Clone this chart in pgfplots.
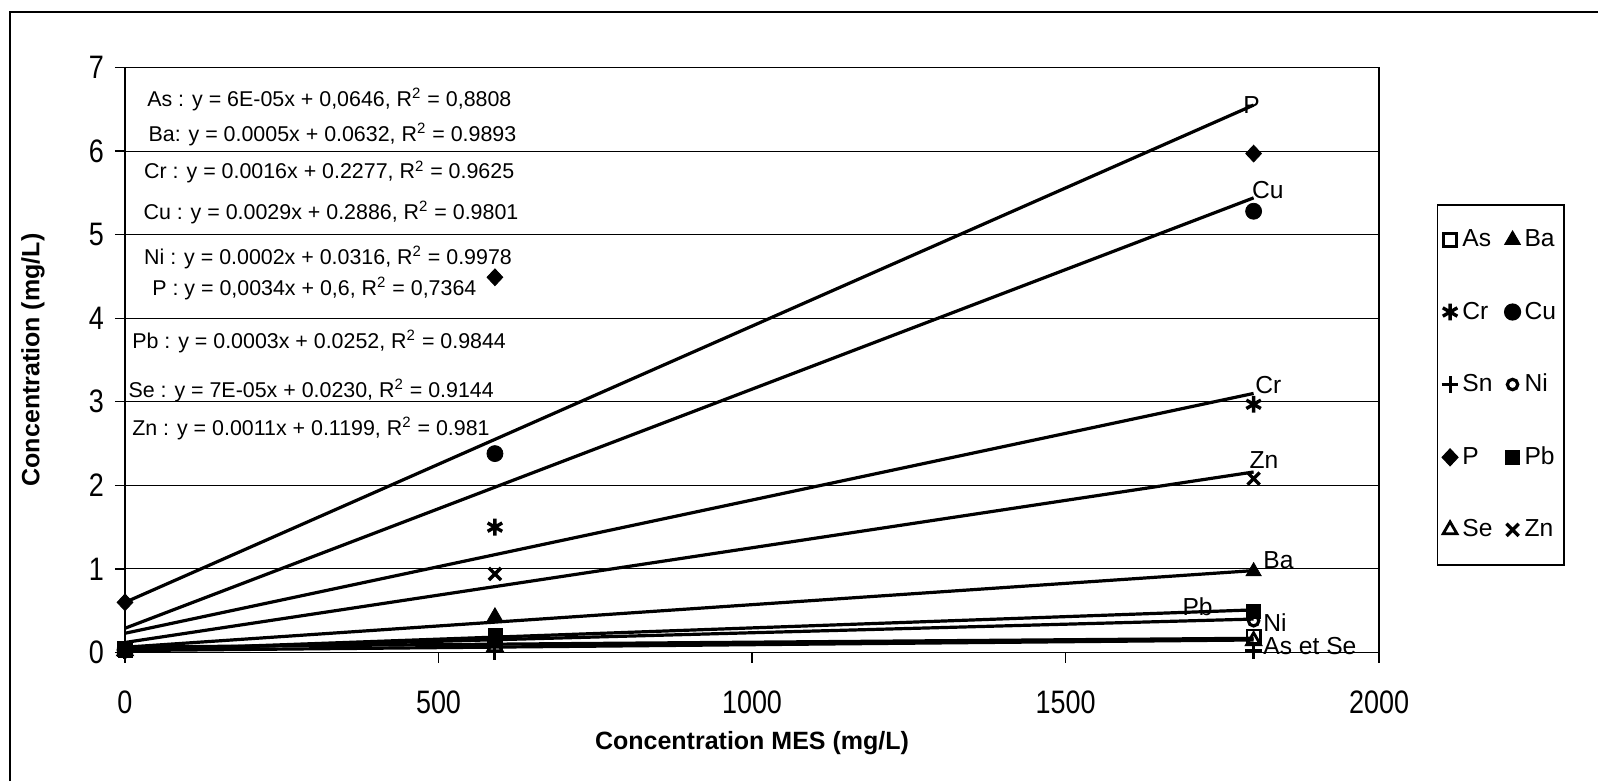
\documentclass[border=0pt]{standalone}
\usepackage{pgfplots}
\pgfplotsset{compat=1.18}
\usepackage{fontspec}
\setmainfont{Liberation Sans}
\begin{document}
\begin{tikzpicture}
\path[use as bounding box] (0pt,0pt) rectangle (799pt,390.5pt);
\draw[line width=0.8pt] (5pt,0pt) -- (5pt,384.5pt) -- (799pt,384.5pt);
\begin{axis}[
  at={(62.5pt,64.25pt)}, anchor=south west,
  scale only axis, width=627pt, height=292.5pt,
  xmin=0, xmax=2000, ymin=0, ymax=7,
  clip=false,
  xtick={0,500,1000,1500,2000}, ytick={0,1,2,3,4,5,6,7},
  xtick pos=bottom, ytick pos=left,
  tick align=outside, major tick length=5pt,
  tick style={black, line width=0.6pt},
  ymajorgrids, grid style={black, line width=0.5pt},
  axis line style={line width=0.6pt},
  /pgf/number format/assume math mode=true,
  /pgf/number format/1000 sep={},
  ticklabel style={font=\fontsize{14.5}{17}\selectfont, xscale=0.93, yscale=1.12},
  xticklabel style={yshift=-9.2pt},
  yticklabel style={xshift=-2.5pt},
  xlabel={Concentration MES (mg/L)},
  ylabel={Concentration (mg/L)},
  label style={font=\bfseries\fontsize{12.5}{15}\selectfont},
  xlabel style={at={(axis description cs:0.5,-0.155)}, anchor=center},
  ylabel style={at={(axis description cs:-0.0734,0.5)}, anchor=center},
  legend columns=2,
  legend cell align=left,
  legend style={at={(axis description cs:1.0463,0.766)}, anchor=north west,
    draw=black, line width=0.6pt, font=\fontsize{12.3}{14}\selectfont,
    inner xsep=2pt, inner ysep=10.5pt, row sep=22pt,
    /tikz/every even column/.append style={column sep=4pt}},
  legend image code/.code={\draw[#1] plot coordinates {(4pt,0pt)};},
]
% trend lines
\addplot[black, line width=1.6pt, forget plot] coordinates {(0,0.60) (1800,6.55)};
\addplot[black, line width=1.6pt, forget plot] coordinates {(0,0.29) (1800,5.44)};
\addplot[black, line width=1.6pt, forget plot] coordinates {(0,0.23) (1800,3.10)};
\addplot[black, line width=1.6pt, forget plot] coordinates {(0,0.12) (1800,2.16)};
\addplot[black, line width=1.6pt, forget plot] coordinates {(0,0.063) (1800,0.98)};
\addplot[black, line width=1.6pt, forget plot] coordinates {(0,0.025) (1800,0.51)};
\addplot[black, line width=1.6pt, forget plot] coordinates {(0,0.032) (1800,0.40)};
\addplot[black, line width=1.6pt, forget plot] coordinates {(0,0.065) (1800,0.17)};
\addplot[black, line width=1.6pt, forget plot] coordinates {(0,0.023) (1800,0.15)};
% data
\addplot[black, only marks, mark=square, mark size=3.3pt, mark options={line width=1.4pt}] coordinates {(0,0.04) (590,0.09) (1800,0.19)};
\addlegendentry{As}
\addplot[black, only marks, mark=triangle*, mark size=4.4pt] coordinates {(0,0.04) (590,0.43) (1800,0.97)};
\addlegendentry{Ba}
\addplot[black, only marks, mark=asterisk, mark size=4.2pt, mark options={line width=1.7pt}] coordinates {(0,0.03) (590,1.50) (1800,2.97)};
\addlegendentry{Cr}
\addplot[black, only marks, mark=*, mark size=4pt] coordinates {(0,0.03) (590,2.38) (1800,5.28)};
\addlegendentry{Cu}
\addplot[black, only marks, mark=+, mark size=4.2pt, mark options={line width=1.5pt}] coordinates {(0,0.02) (590,0.01) (1800,0.02)};
\addlegendentry{Sn}
\addplot[black, only marks, mark=o, mark size=2.6pt, mark options={line width=1.6pt}] coordinates {(0,0.03) (590,0.15) (1800,0.38)};
\addlegendentry{Ni}
\addplot[black, only marks, mark=diamond*, mark size=4.2pt, mark options={xscale=1.25}] coordinates {(0,0.60) (590,4.49) (1800,5.97)};
\addlegendentry{P}
\addplot[black, only marks, mark=square*, mark size=3.5pt] coordinates {(0,0.03) (590,0.21) (1800,0.49)};
\addlegendentry{Pb}
\addplot[black, only marks, mark=triangle, mark size=4pt, mark options={line width=1.4pt}] coordinates {(0,0.02) (590,0.07) (1800,0.14)};
\addlegendentry{Se}
\addplot[black, only marks, mark=x, mark size=4.3pt, mark options={line width=1.7pt}] coordinates {(0,0.03) (590,0.94) (1800,2.08)};
\addlegendentry{Zn}
% thick left axis line
\draw[line width=1.4pt] (rel axis cs:0,0) -- (rel axis cs:0,1);
% equations
\begin{scope}[every node/.style={anchor=west, inner sep=0pt, font=\fontsize{10.7}{12}\selectfont}]
\node at (axis cs:35,6.62) {As : y = 6E-05x + 0,0646, R\textsuperscript{2} = 0,8808};
\node at (axis cs:37,6.20) {Ba: y = 0.0005x + 0.0632, R\textsuperscript{2} = 0.9893};
\node at (axis cs:30,5.75) {Cr : y = 0.0016x + 0.2277, R\textsuperscript{2} = 0.9625};
\node at (axis cs:29,5.27) {Cu : y = 0.0029x + 0.2886, R\textsuperscript{2} = 0.9801};
\node at (axis cs:30,4.73) {Ni : y = 0.0002x + 0.0316, R\textsuperscript{2} = 0.9978};
\node at (axis cs:43,4.36) {P : y = 0,0034x + 0,6, R\textsuperscript{2} = 0,7364};
\node at (axis cs:11,3.72) {Pb : y = 0.0003x + 0.0252, R\textsuperscript{2} = 0.9844};
\node at (axis cs:5,3.14) {Se : y = 7E-05x + 0.0230, R\textsuperscript{2} = 0.9144};
\node at (axis cs:11,2.68) {Zn : y = 0.0011x + 0.1199, R\textsuperscript{2} = 0.981};
\end{scope}
% series labels
\begin{scope}[every node/.style={anchor=west, inner sep=0pt, font=\fontsize{12.3}{14}\selectfont}]
\node at (axis cs:1783,6.55) {P};
\node at (axis cs:1797,5.53) {Cu};
\node at (axis cs:1802,3.20) {Cr};
\node at (axis cs:1793,2.30) {Zn};
\node at (axis cs:1815,1.10) {Ba};
\node at (axis cs:1686,0.55) {Pb};
\node at (axis cs:1815,0.36) {Ni};
\node at (axis cs:1815,0.08) {As et Se};
\end{scope}
\end{axis}
\end{tikzpicture}
\end{document}
